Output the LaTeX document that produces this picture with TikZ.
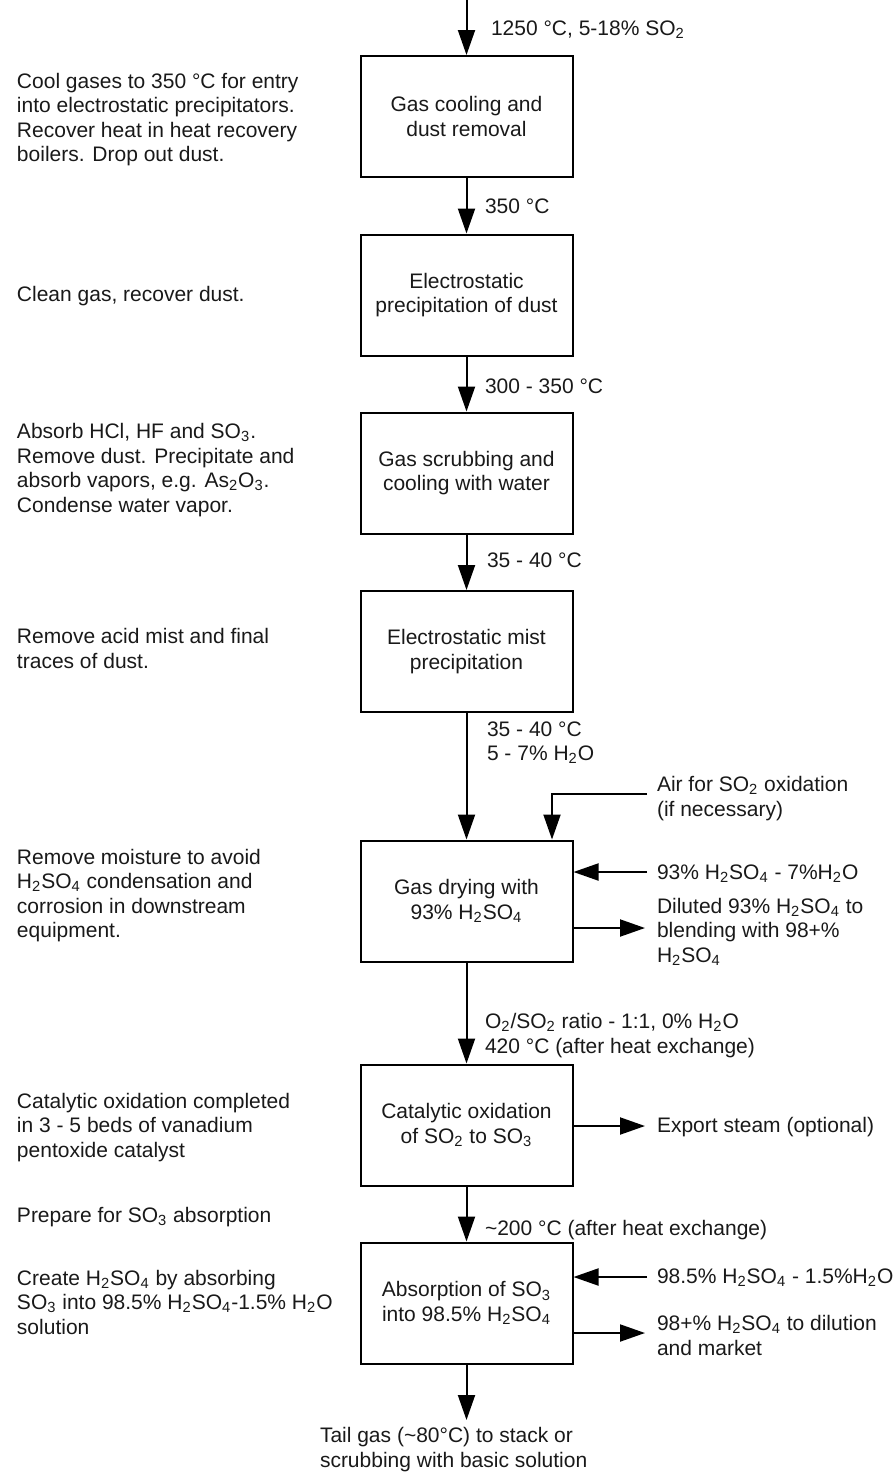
\documentclass[tikz,border=0pt]{standalone}
\usepackage{fontspec}
\setmainfont{Liberation Sans}
\usetikzlibrary{arrows.meta}
\newcommand{\chemsub}[1]{\textsubscript{#1}}
\newcommand{\dg}{°}
% text nodes are placed by the baseline of their last line
\tikzset{
  txt/.style={font=\fontsize{10.5}{12.25}\selectfont, inner sep=0pt, outer sep=0pt, align=left, anchor=base west, text=black!90},
  procbox/.style={draw, line width=1pt, minimum width=106pt, minimum height=60.5pt, inner sep=0pt,
    font=\fontsize{10.5}{12.25}\selectfont, align=center, text=black!90},
  flow/.style={line width=1pt, -{Triangle[length=12.5pt,width=8.5pt]}},
}
\begin{document}
\begin{tikzpicture}[x=0.5pt,y=-0.5pt]
\useasboundingbox (0,0) rectangle (893,1472);

% process chain
\node[procbox] (b1) at (466.5,116.5) {Gas cooling and\\dust removal};
\node[procbox] (b2) at (466.5,295) {Electrostatic\\precipitation of dust};
\node[procbox] (b3) at (466.5,473) {Gas scrubbing and\\cooling with water};
\node[procbox] (b4) at (466.5,651.5) {Electrostatic mist\\precipitation};
\node[procbox] (b5) at (466.5,901) {Gas drying with\\93\% H\chemsub{2}SO\chemsub{4}};
\node[procbox] (b6) at (466.5,1125) {Catalytic oxidation\\of SO\chemsub{2} to SO\chemsub{3}};
\node[procbox] (b7) at (466.5,1303) {Absorption of SO\chemsub{3}\\into 98.5\% H\chemsub{2}SO\chemsub{4}};

\coordinate (feed) at (466.5,0);
\coordinate (tail) at (466.5,1420);

\draw[flow] (feed) -- (b1);
\draw[flow] (b1) -- (b2);
\draw[flow] (b2) -- (b3);
\draw[flow] (b3) -- (b4);
\draw[flow] (b4) -- (b5);
\draw[flow] (b5) -- (b6);
\draw[flow] (b6) -- (b7);
\draw[flow] (b7) -- (tail);

% stream conditions along the main line
\node[txt] (c0) at (491,35) {1250 \dg C, 5-18\% SO\chemsub{2}};
\node[txt] (c1) at (485,213) {350 \dg C};
\node[txt] (c2) at (485,393) {300 - 350 \dg C};
\node[txt] (c3) at (487,567) {35 - 40 \dg C};
\node[txt] (c4) at (487,760.5) {35 - 40 \dg C\\5 - 7\% H\chemsub{2}O};
\node[txt] (c5) at (485,1053) {O\chemsub{2}/SO\chemsub{2} ratio - 1:1, 0\% H\chemsub{2}O\\420 \dg C (after heat exchange)};
\node[txt] (c6) at (485,1235) {\textasciitilde200 \dg C (after heat exchange)};
\node[txt] (c7) at (320,1467) {Tail gas (\textasciitilde80\dg C) to stack or\\scrubbing with basic solution};

% side streams
\coordinate (airsrc) at (647,794);
\coordinate (acid5) at (647,872);
\coordinate (dil5) at (645,928);
\coordinate (steam) at (645,1126);
\coordinate (acid7) at (647,1277);
\coordinate (prod7) at (645,1333);

\draw[flow] (airsrc) -| ([xshift=42.75pt]b5.north);
\draw[flow] (acid5) -- (acid5 -| b5.east);
\draw[flow] (dil5 -| b5.east) -- (dil5);
\draw[flow] (steam -| b6.east) -- (steam);
\draw[flow] (acid7) -- (acid7 -| b7.east);
\draw[flow] (prod7 -| b7.east) -- (prod7);

\node[txt] (s1) at (657,816) {Air for SO\chemsub{2} oxidation\\(if necessary)};
\node[txt] (s2) at (657,879) {93\% H\chemsub{2}SO\chemsub{4} - 7\%H\chemsub{2}O};
\node[txt] (s3) at (657,962) {Diluted 93\% H\chemsub{2}SO\chemsub{4} to\\blending with 98+\%\\H\chemsub{2}SO\chemsub{4}};
\node[txt] (s4) at (657,1132) {Export steam (optional)};
\node[txt] (s5) at (657,1283) {98.5\% H\chemsub{2}SO\chemsub{4} - 1.5\%H\chemsub{2}O};
\node[txt] (s6) at (657,1355) {98+\% H\chemsub{2}SO\chemsub{4} to dilution\\and market};

% step descriptions
\node[txt] (d1) at (17,161.5) {Cool gases to 350 \dg C for entry\\into electrostatic precipitators.\\Recover heat in heat recovery\\boilers. Drop out dust.};
\node[txt] (d2) at (17,301) {Clean gas, recover dust.};
\node[txt] (d3) at (17,512) {Absorb HCl, HF and SO\chemsub{3}.\\Remove dust. Precipitate and\\absorb vapors, e.g. As\chemsub{2}O\chemsub{3}.\\Condense water vapor.};
\node[txt] (d4) at (17,668) {Remove acid mist and final\\traces of dust.};
\node[txt] (d5) at (17,937.5) {Remove moisture to avoid\\H\chemsub{2}SO\chemsub{4} condensation and\\corrosion in downstream\\equipment.};
\node[txt] (d6) at (17,1157) {Catalytic oxidation completed\\in 3 - 5 beds of vanadium\\pentoxide catalyst};
\node[txt] (d7) at (17,1222) {Prepare for SO\chemsub{3} absorption};
\node[txt] (d8) at (17,1334) {Create H\chemsub{2}SO\chemsub{4} by absorbing\\SO\chemsub{3} into 98.5\% H\chemsub{2}SO\chemsub{4}-1.5\% H\chemsub{2}O\\solution};
\end{tikzpicture}
\end{document}
